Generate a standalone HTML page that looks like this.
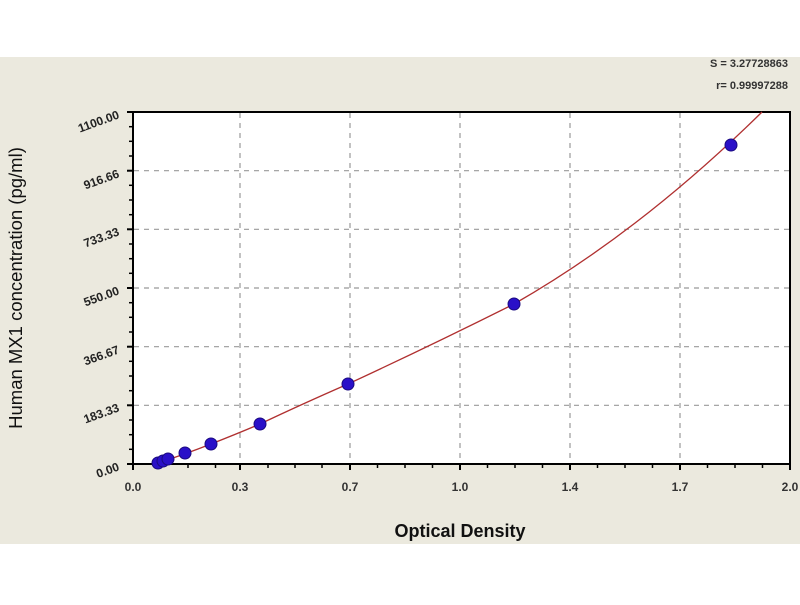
<!DOCTYPE html><html><head><style>body{margin:0;background:#fff}</style></head><body>
<svg width="800" height="600" xmlns="http://www.w3.org/2000/svg" font-family="Liberation Sans, sans-serif">
<rect x="0" y="57" width="800" height="487" fill="#ebe9de"/>
<rect x="133" y="112" width="657" height="352" fill="#fff" stroke="#000" stroke-width="2"/>
<g stroke="#999" stroke-dasharray="5,5" stroke-width="1.2">
<line x1="240" y1="113" x2="240" y2="463"/><line x1="350" y1="113" x2="350" y2="463"/><line x1="460" y1="113" x2="460" y2="463"/><line x1="570" y1="113" x2="570" y2="463"/><line x1="680" y1="113" x2="680" y2="463"/>
<line x1="134" y1="170.7" x2="789" y2="170.7"/><line x1="134" y1="229.3" x2="789" y2="229.3"/><line x1="134" y1="288" x2="789" y2="288"/><line x1="134" y1="346.7" x2="789" y2="346.7"/><line x1="134" y1="405.3" x2="789" y2="405.3"/>
</g>
<g stroke="#000" stroke-width="2">
<line x1="127" y1="112" x2="133" y2="112"/><line x1="127" y1="170.7" x2="133" y2="170.7"/><line x1="127" y1="229.3" x2="133" y2="229.3"/><line x1="127" y1="288" x2="133" y2="288"/><line x1="127" y1="346.7" x2="133" y2="346.7"/><line x1="127" y1="405.3" x2="133" y2="405.3"/><line x1="127" y1="464" x2="133" y2="464"/>
<line x1="133" y1="464" x2="133" y2="470"/><line x1="240" y1="464" x2="240" y2="470"/><line x1="350" y1="464" x2="350" y2="470"/><line x1="460" y1="464" x2="460" y2="470"/><line x1="570" y1="464" x2="570" y2="470"/><line x1="680" y1="464" x2="680" y2="470"/><line x1="790" y1="464" x2="790" y2="470"/>
</g>
<g stroke="#000" stroke-width="1.5">
<line x1="129" y1="126.7" x2="133" y2="126.7"/><line x1="129" y1="141.3" x2="133" y2="141.3"/><line x1="129" y1="156" x2="133" y2="156"/>
<line x1="129" y1="185.3" x2="133" y2="185.3"/><line x1="129" y1="200" x2="133" y2="200"/><line x1="129" y1="214.7" x2="133" y2="214.7"/>
<line x1="129" y1="244" x2="133" y2="244"/><line x1="129" y1="258.7" x2="133" y2="258.7"/><line x1="129" y1="273.3" x2="133" y2="273.3"/>
<line x1="129" y1="302.7" x2="133" y2="302.7"/><line x1="129" y1="317.3" x2="133" y2="317.3"/><line x1="129" y1="332" x2="133" y2="332"/>
<line x1="129" y1="361.3" x2="133" y2="361.3"/><line x1="129" y1="376" x2="133" y2="376"/><line x1="129" y1="390.7" x2="133" y2="390.7"/>
<line x1="129" y1="420" x2="133" y2="420"/><line x1="129" y1="434.7" x2="133" y2="434.7"/><line x1="129" y1="449.3" x2="133" y2="449.3"/>
<line x1="160.5" y1="464" x2="160.5" y2="468"/><line x1="188" y1="464" x2="188" y2="468"/><line x1="215.5" y1="464" x2="215.5" y2="468"/>
<line x1="268" y1="464" x2="268" y2="468"/><line x1="295" y1="464" x2="295" y2="468"/><line x1="322" y1="464" x2="322" y2="468"/>
<line x1="377.5" y1="464" x2="377.5" y2="468"/><line x1="405" y1="464" x2="405" y2="468"/><line x1="432.5" y1="464" x2="432.5" y2="468"/>
<line x1="487.5" y1="464" x2="487.5" y2="468"/><line x1="515" y1="464" x2="515" y2="468"/><line x1="542.5" y1="464" x2="542.5" y2="468"/>
<line x1="597.5" y1="464" x2="597.5" y2="468"/><line x1="625" y1="464" x2="625" y2="468"/><line x1="652.5" y1="464" x2="652.5" y2="468"/>
<line x1="707.5" y1="464" x2="707.5" y2="468"/><line x1="735" y1="464" x2="735" y2="468"/><line x1="762.5" y1="464" x2="762.5" y2="468"/>
</g>
<path d="M155,464 Q183,455 211,444 T260,424 Q300,405 348,384 Q430,346 514,304 Q640,232 762,112" fill="none" stroke="#b03030" stroke-width="1.3"/>
<g fill="#2a10c8" stroke="#1a0a80" stroke-width="1">
<circle cx="158" cy="463" r="6"/><circle cx="163" cy="461" r="6"/><circle cx="168" cy="459" r="6"/><circle cx="185" cy="453" r="6"/><circle cx="211" cy="444" r="6"/><circle cx="260" cy="424" r="6"/><circle cx="348" cy="384" r="6"/><circle cx="514" cy="304" r="6"/><circle cx="731" cy="145" r="6"/>
</g>
<g font-size="12" font-weight="bold" fill="#222" text-anchor="end">
<text transform="translate(120,118) rotate(-20)">1100.00</text>
<text transform="translate(120,177) rotate(-20)">916.66</text>
<text transform="translate(120,235) rotate(-20)">733.33</text>
<text transform="translate(120,294) rotate(-20)">550.00</text>
<text transform="translate(120,353) rotate(-20)">366.67</text>
<text transform="translate(120,411) rotate(-20)">183.33</text>
<text transform="translate(120,470) rotate(-20)">0.00</text>
</g>
<g font-size="12" font-weight="bold" fill="#333" text-anchor="middle">
<text x="133" y="491">0.0</text><text x="240" y="491">0.3</text><text x="350" y="491">0.7</text><text x="460" y="491">1.0</text><text x="570" y="491">1.4</text><text x="680" y="491">1.7</text><text x="790" y="491">2.0</text>
</g>
<text x="460" y="537" font-size="18" font-weight="bold" text-anchor="middle" fill="#111">Optical Density</text>
<text transform="translate(22,288) rotate(-90)" font-size="18.5" text-anchor="middle" fill="#111">Human MX1 concentration (pg/ml)</text>
<g font-size="11" font-weight="bold" fill="#333" text-anchor="end"><text x="788" y="67">S = 3.27728863</text><text x="788" y="89">r= 0.99997288</text></g>
</svg></body></html>
